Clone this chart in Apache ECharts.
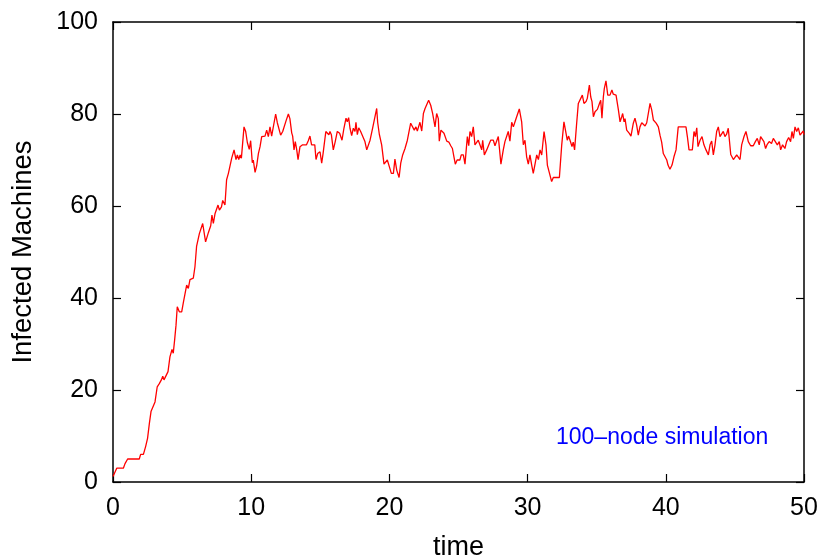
<!DOCTYPE html>
<html>
<head>
<meta charset="utf-8">
<title>Infected Machines</title>
<script src="https://cdn.jsdelivr.net/npm/echarts@6/dist/echarts.min.js"></script>
<style>
  html, body { margin: 0; padding: 0; background: #fff; }
  #chart { width: 820px; height: 557px; }
</style>
</head>
<body>
<div id="chart"></div>
<script>
// values
var time = [
  0, 0.27, 0.75, 0.87, 1.06, 1.9, 2.0, 2.2, 2.36, 2.5, 2.63, 2.75, 3.04, 3.2, 3.35, 3.5,
  3.6, 3.69, 3.83, 3.98, 4.12, 4.27, 4.36, 4.46, 4.56, 4.65, 4.8, 4.97, 5.09, 5.21, 5.33, 5.45,
  5.57, 5.81, 5.93, 6.05, 6.25, 6.39, 6.49, 6.6, 6.7, 6.8, 6.9, 7.07, 7.16, 7.26, 7.38, 7.5,
  7.6, 7.7, 7.85, 7.94, 8.1, 8.22, 8.35, 8.47, 8.59, 8.76, 8.9, 9.0, 9.1, 9.2, 9.29, 9.48,
  9.6, 9.72, 9.86, 9.96, 10.08, 10.15, 10.28, 10.4, 10.52, 10.64, 10.76, 10.88, 11.0, 11.12, 11.24, 11.36,
  11.48, 11.6, 11.77, 11.89, 11.98, 12.13, 12.28, 12.38, 12.52, 12.69, 12.8, 12.93, 13.0, 13.1, 13.19, 13.29,
  13.39, 13.53, 13.72, 14.0, 14.13, 14.25, 14.37, 14.6, 14.69, 14.81, 14.98, 15.1, 15.2, 15.4, 15.5, 15.62,
  15.7, 15.8, 15.94, 16.08, 16.23, 16.4, 16.57, 16.71, 16.86, 16.95, 17.05, 17.15, 17.27, 17.39, 17.51, 17.58,
  17.68, 17.78, 17.92, 18.02, 18.12, 18.23, 18.36, 18.48, 18.6, 18.72, 18.79, 18.91, 19.08, 19.15, 19.27, 19.44,
  19.61, 19.75, 19.85, 20.0, 20.14, 20.29, 20.4, 20.53, 20.7, 20.82, 20.96, 21.13, 21.3, 21.44, 21.54, 21.68,
  21.8, 21.92, 22.02, 22.11, 22.21, 22.34, 22.46, 22.58, 22.7, 22.84, 22.99, 23.13, 23.3, 23.42, 23.54, 23.61,
  23.73, 23.85, 23.95, 24.15, 24.3, 24.44, 24.56, 24.67, 24.77, 24.9, 25.1, 25.2, 25.35, 25.47, 25.64, 25.74,
  25.83, 25.95, 26.07, 26.19, 26.31, 26.43, 26.55, 26.68, 26.75, 26.87, 27.04, 27.23, 27.33, 27.52, 27.64, 27.76,
  27.88, 28.07, 28.24, 28.36, 28.48, 28.6, 28.72, 28.85, 28.97, 29.09, 29.21, 29.4, 29.57, 29.69, 29.81, 29.93,
  30.05, 30.17, 30.29, 30.41, 30.53, 30.66, 30.78, 30.9, 31.02, 31.19, 31.33, 31.43, 31.57, 31.74, 31.86, 32.1,
  32.3, 32.47, 32.63, 32.73, 32.87, 32.97, 33.11, 33.21, 33.3, 33.4, 33.55, 33.67, 33.79, 33.96, 34.08, 34.23,
  34.32, 34.47, 34.57, 34.66, 34.76, 34.88, 35.05, 35.2, 35.29, 35.38, 35.48, 35.55, 35.67, 35.8, 35.96, 36.1,
  36.2, 36.4, 36.57, 36.69, 36.81, 36.88, 36.98, 37.05, 37.17, 37.36, 37.48, 37.65, 37.77, 37.89, 38.01, 38.13,
  38.26, 38.38, 38.5, 38.62, 38.76, 38.86, 38.98, 39.1, 39.3, 39.46, 39.58, 39.7, 39.82, 39.94, 40.07, 40.16,
  40.3, 40.45, 40.59, 40.74, 40.9, 41.0, 41.08, 41.46, 41.56, 41.68, 41.92, 42.04, 42.14, 42.24, 42.33, 42.48,
  42.62, 42.76, 42.91, 43.08, 43.2, 43.32, 43.44, 43.56, 43.68, 43.8, 43.92, 44.04, 44.16, 44.28, 44.4, 44.52,
  44.7, 44.89, 45.01, 45.13, 45.25, 45.37, 45.49, 45.66, 45.8, 45.97, 46.14, 46.33, 46.48, 46.62, 46.76, 46.86,
  47.0, 47.1, 47.22, 47.34, 47.48, 47.65, 47.78, 47.92, 48.07, 48.21, 48.31, 48.45, 48.62, 48.74, 48.89, 49.03,
  49.13, 49.23, 49.35, 49.47, 49.59, 49.71, 49.83, 49.95, 50
];
var infected = [
  1.2, 3, 3, 4, 5, 5, 6, 6, 7.7, 9.5, 12.7, 15.3, 17.4, 20.7, 21.4, 22.2,
  23, 22.2, 22.5, 24, 27.2, 28.8, 28, 30.9, 34.1, 38.1, 37, 37, 39, 39.2, 42.8, 42.1,
  44, 44.3, 46.8, 51.3, 54, 54.2, 56.2, 56, 52.2, 52.2, 54.2, 55.7, 58, 56.2, 58.3, 58.3,
  60.2, 59.1, 59.8, 61.2, 60.2, 65.7, 67.1, 67.2, 70.4, 72.2, 70.1, 71.1, 70.1, 71.1, 70.4, 77.2,
  76.2, 73.8, 72.3, 74.2, 69.4, 70, 67.3, 68.8, 71.4, 72.9, 75.1, 75.1, 75.2, 76.5, 75.1, 77.2,
  75.2, 75.2, 80, 78.1, 78.1, 75.4, 76.2, 76.2, 78.5, 80, 79, 75.9, 75.2, 72.2, 74, 72.3,
  70.1, 72.9, 73.3, 73.3, 74.2, 75.2, 73.3, 73.3, 70.1, 71.4, 71.8, 69.3, 71.4, 76.2, 76.2, 75.5,
  76.2, 75.5, 72.2, 74, 76.2, 75.8, 74.3, 76.9, 79.1, 78.3, 79.2, 76.9, 75.3, 76.9, 76.2, 78.2,
  75.5, 77, 76.2, 76, 74.8, 74, 72.2, 72.2, 74.3, 74.3, 77, 77.2, 81.2, 78.2, 75.6, 73.3,
  69.1, 69.1, 70, 68.5, 67.1, 67.1, 70.2, 67.8, 66.2, 69.3, 71.1, 72.5, 74.3, 76.5, 78, 78,
  76.5, 77.2, 76.3, 77.2, 78.2, 76.3, 80.1, 81.2, 81.3, 83, 81.9, 80.1, 77.2, 80.1, 79, 74.1,
  76.5, 76.5, 75.8, 74.1, 73.9, 73.1, 72.5, 70.7, 69.1, 70, 70, 71.1, 71.1, 69.1, 75.1, 73.1,
  76.2, 75.1, 77.2, 73.3, 73.3, 74.3, 73.3, 72.2, 74.3, 71.1, 72.2, 73.6, 74.3, 74.3, 73.1, 73.1,
  75.1, 69.1, 72.2, 74, 74, 76.2, 74.1, 78.2, 77.2, 78.3, 79.4, 81.1, 78.3, 73.3, 74.3, 70.7,
  69.1, 71.1, 69, 67.1, 69, 71.1, 70.1, 72.2, 71.1, 76.2, 73.3, 68.9, 69.3, 65.3, 66.2, 66.2,
  66.2, 73.3, 78.3, 78.1, 74.3, 75.2, 73.9, 72.9, 73.9, 72.2, 78, 82.3, 82.3, 84.1, 82.3, 82.7,
  83.4, 86.3, 83.7, 82.7, 79.4, 80.5, 81, 82.3, 83, 79.1, 83.7, 85.5, 87.2, 84.1, 84.1, 85.2,
  84.3, 84.1, 80.9, 78.3, 79.4, 80.1, 78.3, 79, 76.5, 75.8, 75.2, 78, 79.1, 77.6, 75.4, 77.2,
  78.1, 78, 77.4, 78.1, 78.1, 82.3, 80.9, 78.7, 78, 77.2, 75.4, 73.9, 71.4, 71.8, 70, 68.9,
  68, 68.9, 70.7, 72.2, 77.2, 76.9, 77.2, 77.2, 75.1, 72.2, 72.2, 76.2, 75.1, 77, 72.9, 74.3,
  75.1, 73.3, 72.2, 71.1, 73.3, 74.1, 71.1, 73.3, 76.2, 77.2, 75.1, 75.1, 76.2, 75.1, 75.6, 76.9,
  71.2, 70.1, 70.3, 71.1, 71.2, 70.1, 73.3, 75.1, 76.2, 74, 73.1, 73.1, 74, 74.7, 73.3, 75.1,
  75.1, 74, 72.5, 73.4, 74, 73.6, 74.7, 75.1, 73.3, 74, 72.2, 73.3, 72.5, 74, 74.9, 74,
  76.2, 74.7, 77.2, 76.2, 77, 75.4, 75.4, 76.3, 75.5
];
var xTicks = [0, 10, 20, 30, 40, 50];
var yTicks = [0, 20, 40, 60, 80, 100];
var annotation = '100\u2013node simulation';

var chart = echarts.init(document.getElementById('chart'));

var seriesData = [];
for (var i = 0; i < time.length; i++) {
  seriesData.push([time[i], infected[i]]);
}

var font = '"Liberation Sans", Arial, sans-serif';

function axisLine() {
  return { show: true, onZero: false, lineStyle: { color: '#000', width: 1.5 } };
}
function tickIn() {
  return { show: true, inside: true, length: 8, lineStyle: { color: '#000', width: 1.2 } };
}

var option = {
  animation: false,
  backgroundColor: '#fff',
  grid: { left: 113, right: 16, top: 22, bottom: 75, outerBoundsMode: 'none', containLabel: false },
  xAxis: [
    {
      type: 'value',
      min: xTicks[0],
      max: xTicks[xTicks.length - 1],
      interval: 10,
      name: 'time',
      nameLocation: 'middle',
      nameGap: 52,
      nameTextStyle: { fontFamily: font, fontSize: 27, color: '#000' },
      axisLine: axisLine(),
      axisTick: tickIn(),
      axisLabel: { fontFamily: font, fontSize: 25, color: '#000', margin: 14 },
      splitLine: { show: false }
    },
    {
      type: 'value',
      position: 'top',
      min: xTicks[0],
      max: xTicks[xTicks.length - 1],
      interval: 10,
      axisLine: axisLine(),
      axisTick: tickIn(),
      axisLabel: { show: false },
      splitLine: { show: false }
    }
  ],
  yAxis: [
    {
      type: 'value',
      min: yTicks[0],
      max: yTicks[yTicks.length - 1],
      interval: 20,
      name: 'Infected Machines',
      nameLocation: 'middle',
      nameGap: 76,
      nameTextStyle: { fontFamily: font, fontSize: 27.5, color: '#000' },
      axisLine: axisLine(),
      axisTick: tickIn(),
      axisLabel: { fontFamily: font, fontSize: 25, color: '#000', margin: 15 },
      splitLine: { show: false }
    },
    {
      type: 'value',
      position: 'right',
      min: yTicks[0],
      max: yTicks[yTicks.length - 1],
      interval: 20,
      axisLine: axisLine(),
      axisTick: tickIn(),
      axisLabel: { show: false },
      splitLine: { show: false }
    }
  ],
  graphic: [
    {
      type: 'text',
      left: 556,
      top: 426,
      style: {
        text: annotation,
        fill: '#0000ff',
        font: '23px ' + font
      }
    }
  ],
  series: [
    {
      name: 'infected',
      type: 'line',
      data: seriesData,
      showSymbol: false,
      symbol: 'none',
      lineStyle: { color: '#ff0000', width: 1.3 },
      z: 1
    }
  ]
};
chart.setOption(option);
</script>
</body>
</html>
